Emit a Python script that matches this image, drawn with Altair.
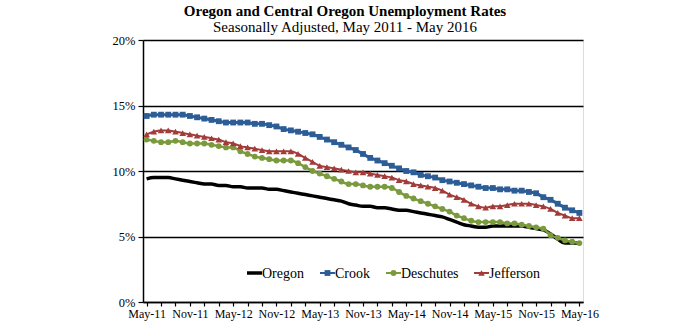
import json
import altair as alt
import pandas as pd

# ---------------- data ----------------
tick_labels = ["May-11", "Nov-11", "May-12", "Nov-12", "May-13", "Nov-13",
               "May-14", "Nov-14", "May-15", "Nov-15", "May-16"]

series_names = ["Oregon", "Crook", "Deschutes", "Jefferson"]
series_colors = ["#000000", "#2c5d96", "#7a9a3d", "#a23c3a"]

oregon = [9.4, 9.5, 9.5, 9.5, 9.4, 9.3, 9.2, 9.1, 9.0, 9.0,
          8.9, 8.9, 8.8, 8.8, 8.7, 8.7, 8.7, 8.6, 8.6, 8.5,
          8.4, 8.3, 8.2, 8.1, 8.0, 7.9, 7.8, 7.7, 7.5, 7.4,
          7.3, 7.3, 7.2, 7.2, 7.1, 7.0, 7.0, 6.9, 6.8, 6.7,
          6.6, 6.5, 6.3, 6.1, 5.9, 5.8, 5.7, 5.7, 5.8, 5.8,
          5.8, 5.8, 5.8, 5.7, 5.6, 5.5, 5.2, 4.8, 4.5, 4.5, 4.5]

crook = [14.2, 14.3, 14.3, 14.3, 14.3, 14.3, 14.2, 14.1, 14.0, 13.9,
         13.8, 13.7, 13.7, 13.7, 13.7, 13.6, 13.6, 13.5, 13.4, 13.2,
         13.1, 13.0, 12.9, 12.8, 12.6, 12.4, 12.2, 12.0, 11.8, 11.6,
         11.3, 11.0, 10.8, 10.6, 10.4, 10.2, 10.0, 9.9, 9.7, 9.6,
         9.5, 9.3, 9.2, 9.1, 9.0, 8.9, 8.8, 8.7, 8.7, 8.6,
         8.6, 8.5, 8.5, 8.4, 8.3, 8.0, 7.8, 7.5, 7.2, 7.0, 6.8]

deschutes = [12.4, 12.3, 12.2, 12.2, 12.3, 12.2, 12.1, 12.1, 12.1, 12.0,
             11.9, 11.8, 11.8, 11.5, 11.3, 11.1, 11.0, 10.9, 10.8, 10.8,
             10.8, 10.6, 10.3, 10.0, 9.8, 9.6, 9.4, 9.2, 9.0, 9.0,
             8.9, 8.8, 8.8, 8.8, 8.7, 8.4, 8.1, 7.9, 7.7, 7.5,
             7.3, 7.1, 6.9, 6.6, 6.4, 6.2, 6.1, 6.1, 6.1, 6.1,
             6.0, 6.0, 5.9, 5.8, 5.7, 5.6, 5.1, 4.9, 4.7, 4.6, 4.5]

jefferson = [12.8, 13.0, 13.1, 13.1, 13.0, 12.9, 12.8, 12.7, 12.6, 12.5,
             12.4, 12.2, 12.1, 11.9, 11.8, 11.7, 11.6, 11.5, 11.5, 11.5,
             11.5, 11.3, 11.0, 10.7, 10.4, 10.3, 10.2, 10.1, 10.0, 9.9,
             9.9, 9.8, 9.7, 9.6, 9.5, 9.3, 9.2, 9.0, 8.9, 8.8,
             8.7, 8.5, 8.2, 8.0, 7.8, 7.5, 7.3, 7.2, 7.3, 7.3,
             7.4, 7.5, 7.5, 7.5, 7.4, 7.3, 7.1, 6.8, 6.6, 6.4, 6.4]

values = {"Oregon": oregon, "Crook": crook, "Deschutes": deschutes, "Jefferson": jefferson}

rows = []
for name in series_names:
    for i, v in enumerate(values[name]):
        rows.append({"idx": i, "value": v, "series": name})
df = pd.DataFrame(rows)

# ---------------- styling ----------------
FONT = "Liberation Serif"
markers = {"Oregon": None, "Crook": ("square", 34), "Deschutes": ("circle", 34),
           "Jefferson": ("triangle-up", 44)}
widths = {"Oregon": 3.5, "Crook": 2, "Deschutes": 2, "Jefferson": 2}

label_expr = ("datum.value % 6 == 0 ? " + json.dumps(tick_labels) +
              "[floor(datum.value / 6)] : ''")

x_enc = alt.X("idx:Q",
              scale=alt.Scale(domain=[-0.5, 60.5], nice=False, zero=False),
              axis=alt.Axis(values=list(range(0, 61, 2)), labelExpr=label_expr,
                            title=None, grid=False, tickSize=4, tickColor="black",
                            tickWidth=1.2, domainColor="black", domainWidth=1.5,
                            labelFont=FONT, labelFontSize=12, labelColor="black",
                            labelPadding=2, labelOverlap=False, labelFlush=False))
y_enc = alt.Y("value:Q",
              scale=alt.Scale(domain=[0, 20], nice=False, zero=True),
              axis=alt.Axis(values=[0, 5, 10, 15, 20], labelExpr="datum.value + '%'",
                            title=None, grid=True, gridColor="black", gridWidth=1.5,
                            gridOpacity=1, tickSize=5, tickColor="black", tickWidth=1.2,
                            domainColor="black", domainWidth=1.5,
                            labelFont=FONT, labelFontSize=12.5, labelColor="black",
                            labelPadding=3))

base = alt.Chart(df)

lines = base.mark_line(interpolate="monotone").encode(
    x=x_enc, y=y_enc,
    stroke=alt.Stroke("series:N", scale=alt.Scale(domain=series_names, range=series_colors),
                      legend=None),
    strokeWidth=alt.StrokeWidth("series:N",
                                scale=alt.Scale(domain=series_names,
                                                range=[widths[n] for n in series_names]),
                                legend=None),
    order=alt.Order("idx:Q"),
)

layers = [lines]
for name in series_names:
    if markers[name] is None:
        continue
    shp, sz = markers[name]
    col = series_colors[series_names.index(name)]
    layers.append(
        base.transform_filter(alt.datum.series == name)
        .mark_point(shape=shp, filled=True, size=sz, opacity=1, color=col)
        .encode(x=x_enc, y=y_enc)
    )

# ---------------- legend (inside the plot, one row) ----------------
legend_left = [104, 177, 243, 331]   # pixel offset of each swatch from plot's left edge
legend_y = 233                        # pixel offset from plot's top edge
swatch = 15
for name, lx in zip(series_names, legend_left):
    col = series_colors[series_names.index(name)]
    item = alt.Chart(pd.DataFrame({"series": [name]}))
    layers.append(item.mark_rule(color=col, strokeWidth=widths[name] if name == "Oregon" else 2).encode(
        x=alt.value(lx), x2=alt.value(lx + swatch), y=alt.value(legend_y)))
    if markers[name] is not None:
        shp, sz = markers[name]
        layers.append(item.mark_point(shape=shp, filled=True, size=sz, opacity=1, color=col).encode(
            x=alt.value(lx + swatch / 2), y=alt.value(legend_y)))
    layers.append(item.mark_text(align="left", baseline="middle", font=FONT, fontSize=14,
                                 color="black", dx=0).encode(
        x=alt.value(lx + swatch), y=alt.value(legend_y + 1), text=alt.Text("series:N")))

chart = alt.layer(*layers).properties(
    width=440,
    height=262,
    autosize=alt.AutoSizeParams(type="none"),
    padding={"left": 143, "top": 40, "right": 117, "bottom": 34},
    title=alt.TitleParams(
        text="Oregon and Central Oregon Unemployment Rates",
        subtitle="Seasonally Adjusted, May 2011 - May 2016",
        font=FONT, fontSize=15, fontWeight="bold", color="black",
        subtitleFont=FONT, subtitleFontSize=15, subtitleColor="black",
        subtitlePadding=1, anchor="middle", dx=-18, offset=-1,
    ),
).configure_view(stroke="black", strokeWidth=1.5).configure(background="white")

chart.save("out.html", embed_options={"renderer": "svg", "actions": False})
